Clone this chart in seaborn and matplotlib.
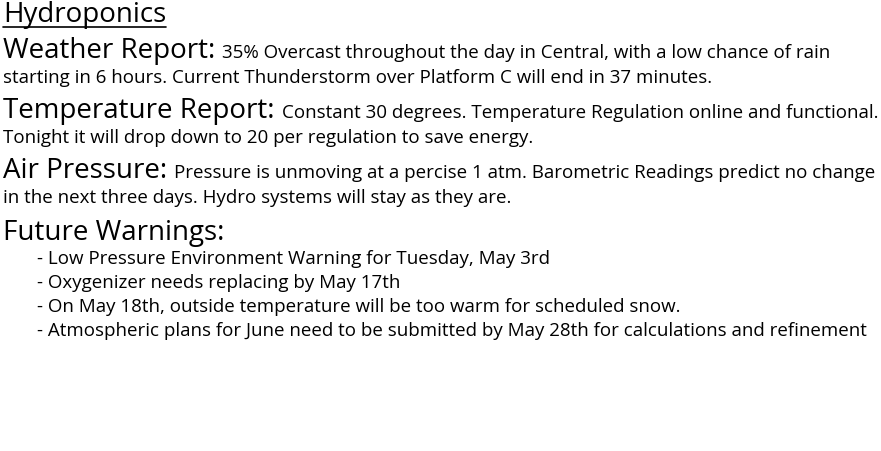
import matplotlib
matplotlib.use("Agg")
import matplotlib.pyplot as plt
import seaborn as sns

title = "Hydroponics"
headers = ["Weather Report:", "Temperature Report:", "Air Pressure:", "Future Warnings:"]
first_lines = [
    "35% Overcast throughout the day in Central, with a low chance of rain",
    "Constant 30 degrees. Temperature Regulation online and functional.",
    "Pressure is unmoving at a percise 1 atm. Barometric Readings predict no change",
    "",
]
second_lines = [
    "starting in 6 hours. Current Thunderstorm over Platform C will end in 37 minutes.",
    "Tonight it will drop down to 20 per regulation to save energy.",
    "in the next three days. Hydro systems will stay as they are.",
]
warnings = [
    "- Low Pressure Environment Warning for Tuesday, May 3rd",
    "- Oxygenizer needs replacing by May 17th",
    "- On May 18th, outside temperature will be too warm for scheduled snow.",
    "- Atmospheric plans for June need to be submitted by May 28th for calculations and refinement",
]

W, H = 881, 451
sns.set_theme(style="white")
plt.rcParams["font.family"] = ["Open Sans", "DejaVu Sans"]

fig = plt.figure(figsize=(W / 100, H / 100), dpi=100)
fig.patch.set_facecolor("white")
renderer = fig.canvas.get_renderer()

BIG = 20.0
SMALL = 13.5


def put(x, y, s, size):
    t = fig.text(x / W, 1 - y / H, s, fontsize=size, va="baseline", ha="left", color="black")
    bb = t.get_window_extent(renderer=renderer)
    return bb.x1


end = put(3, 22, title, BIG)
fig.add_artist(plt.Line2D([3 / W, end / W], [1 - 27 / H, 1 - 27 / H], color="black", lw=1.2))

header_y = [58, 118, 178, 240]
for i, h in enumerate(headers):
    end = put(3, header_y[i], h, BIG)
    if first_lines[i]:
        put(end + 7, header_y[i], first_lines[i], SMALL)
    if i < len(second_lines):
        put(3, header_y[i] + 25, second_lines[i], SMALL)

for j, w in enumerate(warnings):
    put(37, 264 + j * 24, w, SMALL)

fig.savefig("out.png", dpi=100, facecolor="white")
